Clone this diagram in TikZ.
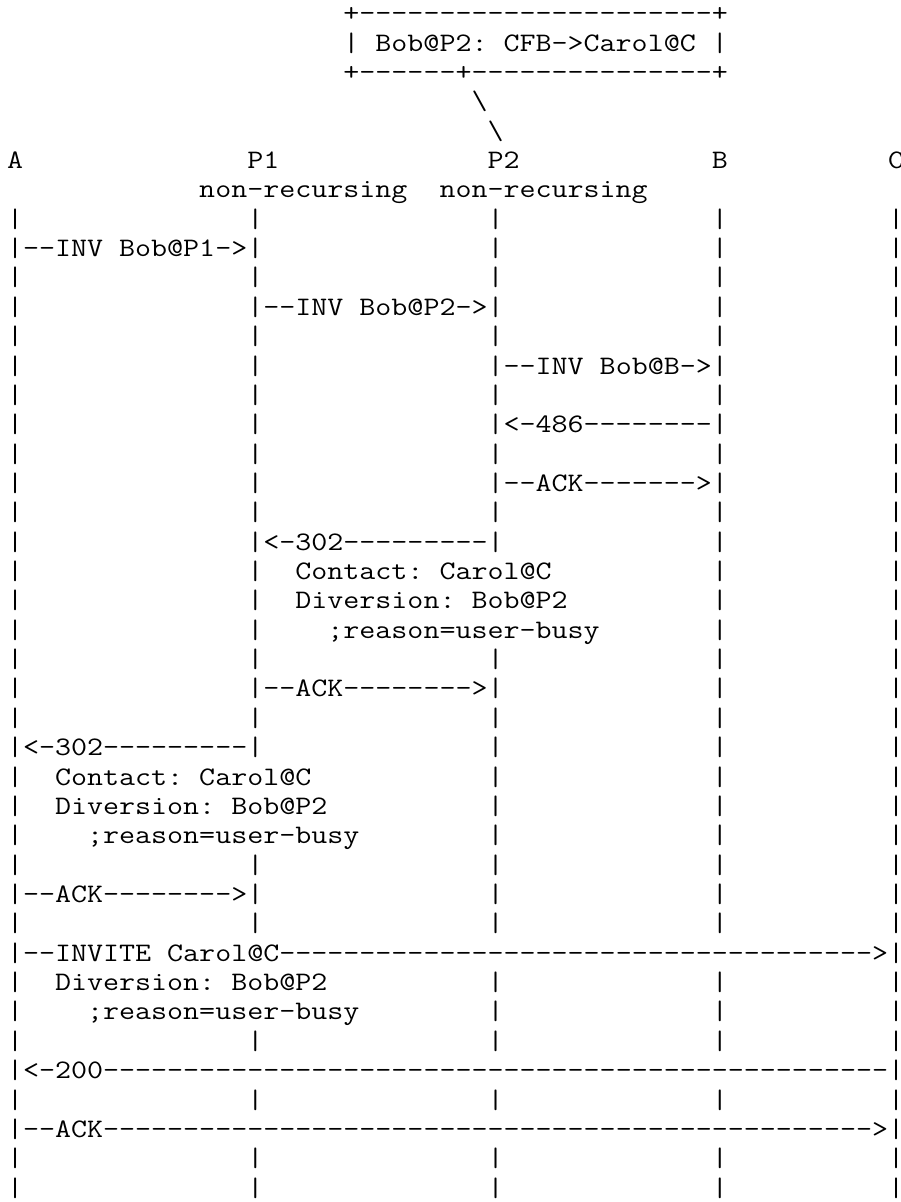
\documentclass[tikz,border=0pt]{standalone}
\usepackage{graphicx}
\newlength\cwn
\newcommand\fnt{\fontsize{26.7}{30}\selectfont\ttfamily\frenchspacing}
\settowidth\cwn{\fnt M}
\pgfmathsetmacro\xs{16.02/\cwn}
\newcommand\sk[1]{\hspace*{#1\cwn}}
\ExplSyntaxOn
\cs_new:Npn \hy #1 {\prg_replicate:nn{#1}{\char45\kern0pt}}
\ExplSyntaxOff
\newcommand\bars{|\sk{14}|\sk{14}|\sk{13}|\sk{10}|}
\tikzset{rowtext/.style={anchor=base west,inner sep=0pt,outer sep=0pt,text=black}}
\newcommand\row[2]{\node[rowtext] (r#1) at (7,{-(21.7+29.36*#1)}) {\scalebox{\xs}[1]{\fnt #2}};}
\begin{document}
\begin{tikzpicture}[x=1pt,y=1pt]
\fill[white] (0,0) rectangle (901,-1202);
\useasboundingbox (0,0) rectangle (901,-1202);
\row{0}{\sk{21}+\hy{22}+}
\row{1}{\sk{21}| Bob@P2: CFB->Carol@C |}
\row{2}{\sk{21}+\hy{6}+\hy{15}+}
\row{3}{\sk{29}\textbackslash}
\row{4}{\sk{30}\textbackslash}
\row{5}{A\sk{14}P1\sk{13}P2\sk{12}B\sk{10}C}
\row{6}{\sk{12}non-recursing\sk{2}non-recursing}
\row{7}{\bars}
\row{8}{|\hy{2}INV Bob@P1->|\sk{14}|\sk{13}|\sk{10}|}
\row{9}{\bars}
\row{10}{|\sk{14}|\hy{2}INV Bob@P2->|\sk{13}|\sk{10}|}
\row{11}{\bars}
\row{12}{|\sk{14}|\sk{14}|\hy{2}INV Bob@B->|\sk{10}|}
\row{13}{\bars}
\row{14}{|\sk{14}|\sk{14}|<-486\hy{8}|\sk{10}|}
\row{15}{\bars}
\row{16}{|\sk{14}|\sk{14}|\hy{2}ACK\hy{7}>|\sk{10}|}
\row{17}{\bars}
\row{18}{|\sk{14}|<-302\hy{9}|\sk{13}|\sk{10}|}
\row{19}{|\sk{14}|\sk{2}Contact: Carol@C\sk{10}|\sk{10}|}
\row{20}{|\sk{14}|\sk{2}Diversion: Bob@P2\sk{9}|\sk{10}|}
\row{21}{|\sk{14}|\sk{4};reason=user-busy\sk{7}|\sk{10}|}
\row{22}{\bars}
\row{23}{|\sk{14}|\hy{2}ACK\hy{8}>|\sk{13}|\sk{10}|}
\row{24}{\bars}
\row{25}{|<-302\hy{9}|\sk{14}|\sk{13}|\sk{10}|}
\row{26}{|\sk{2}Contact: Carol@C\sk{11}|\sk{13}|\sk{10}|}
\row{27}{|\sk{2}Diversion: Bob@P2\sk{10}|\sk{13}|\sk{10}|}
\row{28}{|\sk{4};reason=user-busy\sk{8}|\sk{13}|\sk{10}|}
\row{29}{\bars}
\row{30}{|\hy{2}ACK\hy{8}>|\sk{14}|\sk{13}|\sk{10}|}
\row{31}{\bars}
\row{32}{|\hy{2}INVITE Carol@C\hy{37}>|}
\row{33}{|\sk{2}Diversion: Bob@P2\sk{10}|\sk{13}|\sk{10}|}
\row{34}{|\sk{4};reason=user-busy\sk{8}|\sk{13}|\sk{10}|}
\row{35}{\bars}
\row{36}{|<-200\hy{49}|}
\row{37}{\bars}
\row{38}{|\hy{2}ACK\hy{48}>|}
\row{39}{\bars}
\row{40}{\bars}
\end{tikzpicture}
\end{document}
